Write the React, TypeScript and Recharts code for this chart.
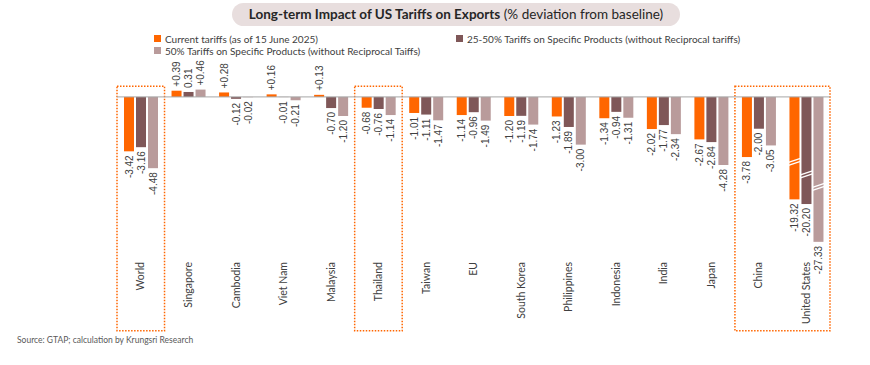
import React from 'react'
import { BarChart, Bar, XAxis, YAxis, ReferenceLine, ReferenceArea, LabelList } from 'recharts'

const categories = [
  'World', 'Singapore', 'Cambodia', 'Viet Nam', 'Malaysia', 'Thailand', 'Taiwan', 'EU',
  'South Korea', 'Philippines', 'Indonesia', 'India', 'Japan', 'China', 'United States',
]
const currentTariffs = [-3.42, 0.39, 0.28, 0.16, 0.13, -0.68, -1.01, -1.14, -1.2, -1.23, -1.34, -2.02, -2.67, -3.78, -19.32]
const specific2550 = [-3.16, 0.31, -0.12, -0.01, -0.7, -0.76, -1.11, -0.96, -1.19, -1.89, -0.94, -1.77, -2.84, -2.0, -20.2]
const specific50 = [-4.48, 0.46, -0.02, -0.21, -1.2, -1.14, -1.47, -1.49, -1.74, -3.0, -1.31, -2.34, -4.28, -3.05, -27.33]

// bars on the broken part of the axis are drawn at 1/3 scale
const brokenCategories = ['United States']
const BREAK_FACTOR = 3
// labels printed without a "+" in the original
const unsignedLabels = ['specific2550:Singapore']
const highlighted = [['World', 'World'], ['Thailand', 'Thailand'], ['China', 'United States']]

const ORANGE = '#FF6600'
const DARK = '#7F5758'
const LIGHT = '#B99B9B'
const TEXT = '#404040'
const FONT = 'Lato, "Open Sans", sans-serif'

const series = [
  { key: 'currentTariffs', values: currentTariffs, color: ORANGE, name: 'Current tariffs (as of 15 June 2025)', breakAt: 0.62 },
  { key: 'specific2550', values: specific2550, color: DARK, name: '25-50% Tariffs on Specific Products (without Reciprocal tariffs)', breakAt: 0.71 },
  { key: 'specific50', values: specific50, color: LIGHT, name: '50% Tariffs on Specific Products (without Reciprocal Taiffs)', breakAt: 0.61 },
]

const data = categories.map((name, i) => {
  const row: any = { name }
  const f = brokenCategories.includes(name) ? BREAK_FACTOR : 1
  series.forEach((s) => {
    row[s.key] = s.values[i] / f
  })
  return row
})

function fmt(key: string, i: number) {
  const v = series.find((s) => s.key === key)!.values[i]
  const txt = Math.abs(v).toFixed(2)
  if (v < 0) return '-' + txt
  return unsignedLabels.includes(`${key}:${categories[i]}`) ? txt : '+' + txt
}

function makeShape(breakAt: number) {
  return (props: any) => {
    const { x, y, width, height, fill, payload } = props
    const top = Math.min(y, y + height)
    const h = Math.abs(height)
    const broken = brokenCategories.includes(payload.name)
    const by = top + h * breakAt
    return (
      <g>
        <rect x={x} y={top} width={width} height={h} fill={fill} />
        {broken && (
          <g stroke="#fff" strokeWidth={1.3}>
            <line x1={x - 1} y1={by + 2} x2={x + width + 1} y2={by - 2} />
            <line x1={x - 1} y1={by + 5} x2={x + width + 1} y2={by + 1} />
          </g>
        )}
      </g>
    )
  }
}

function makeLabel(key: string) {
  return (props: any) => {
    const { x, y, width, height, index } = props
    const raw = series.find((s) => s.key === key)!.values[index]
    const top = Math.min(y, y + height)
    const bottom = Math.max(y, y + height)
    const cx = x + width / 2
    const neg = raw < 0
    const ly = neg ? bottom + 4 : top - 4
    return (
      <text
        transform={`translate(${cx},${ly}) rotate(-90)`}
        textAnchor={neg ? 'end' : 'start'}
        dy="0.35em"
        fontSize={10}
        fontFamily='"Liberation Sans", Arial, sans-serif'
        fill={TEXT}
      >
        {fmt(key, index)}
      </text>
    )
  }
}

const CategoryTick = (props: any) => {
  const { x, y, payload } = props
  return (
    <text
      transform={`translate(${x},${y}) rotate(-90)`}
      textAnchor="end"
      dy="0.35em"
      fontSize={10.5}
      fontFamily={FONT}
      fill={TEXT}
    >
      {payload.value}
    </text>
  )
}

function LegendItem({ color, label }: { color: string; label: string }) {
  return (
    <span style={{ display: 'inline-flex', alignItems: 'center', whiteSpace: 'nowrap' }}>
      <span style={{ width: 7, height: 7, background: color, marginRight: 4, display: 'inline-block' }} />
      {label}
    </span>
  )
}

export default function App() {
  return (
    <div style={{ position: 'absolute', left: 0, top: 0, width: 870, height: 365, background: '#fff', fontFamily: FONT, color: TEXT }}>
      <div
        style={{
          position: 'absolute', left: 232, top: 3, width: 448, height: 23, borderRadius: 12,
          background: '#E8DEDE', textAlign: 'center', lineHeight: '23px', fontSize: 13.5, color: '#262626',
          whiteSpace: 'nowrap',
        }}
      >
        <b>Long-term Impact of US Tariffs on Exports</b> (% deviation from baseline)
      </div>
      <div style={{ position: 'absolute', left: 154, top: 32, fontSize: 10 }}>
        <LegendItem color={series[0].color} label={series[0].name} />
      </div>
      <div style={{ position: 'absolute', left: 456, top: 32, fontSize: 10 }}>
        <LegendItem color={series[1].color} label={series[1].name} />
      </div>
      <div style={{ position: 'absolute', left: 154, top: 44, fontSize: 10 }}>
        <LegendItem color={series[2].color} label={series[2].name} />
      </div>
      <div style={{ position: 'absolute', left: 17, top: 335, fontSize: 8.5, color: '#595959' }}>
        Source: GTAP; calculation by Krungsri Research
      </div>
      <div style={{ position: 'absolute', left: 0, top: 0 }}>
        <BarChart
          width={870}
          height={365}
          data={data}
          margin={{ top: 81, right: 40, bottom: 0, left: 117 }}
          barCategoryGap={6}
          barGap={2}
        >
          <XAxis dataKey="name" height={109} axisLine={false} tickLine={false} tickMargin={0} tick={<CategoryTick />} interval={0} />
          <YAxis hide domain={[-10, 1]} />
          {highlighted.map(([a, b]) => (
            <ReferenceArea
              key={a}
              x1={a}
              x2={b}
              y1={0.67}
              y2={-14.7}
              ifOverflow="visible"
              fill="none"
              stroke={ORANGE}
              strokeWidth={1.5}
              strokeDasharray="1.5 1.5"
            />
          ))}
          <ReferenceLine y={0} stroke="#A6A6A6" strokeWidth={1} />
          {series.map((s) => (
            <Bar key={s.key} dataKey={s.key} fill={s.color} barSize={10} isAnimationActive={false} shape={makeShape(s.breakAt)}>
              <LabelList dataKey={s.key} content={makeLabel(s.key)} />
            </Bar>
          ))}
        </BarChart>
      </div>
    </div>
  )
}
